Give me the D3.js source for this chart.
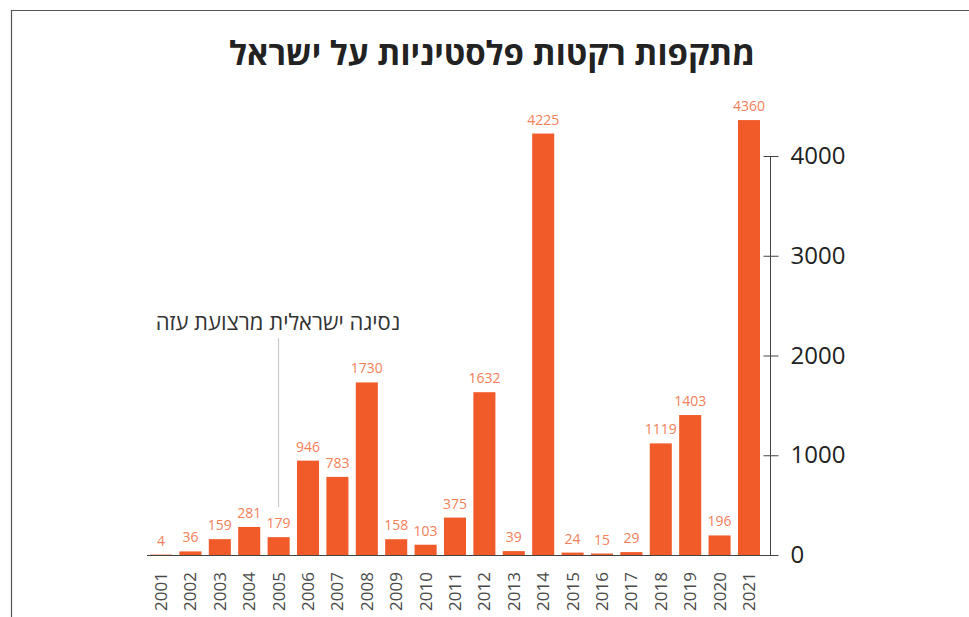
<!DOCTYPE html>
<html>
<head>
<meta charset="utf-8">
<script src="https://cdn.jsdelivr.net/npm/d3@7"></script>
<style>
  body { margin: 0; background: #fff; }
  svg { display: block; font-family: "Open Sans", "DejaVu Sans", sans-serif; }
</style>
</head>
<body>
<script>
var w = 969;
var h = 617;

var years = ['2001','2002','2003','2004','2005','2006','2007','2008','2009','2010','2011',
             '2012','2013','2014','2015','2016','2017','2018','2019','2020','2021'];
var rockets = [4, 36, 159, 281, 179, 946, 783, 1730, 158, 103, 375,
               1632, 39, 4225, 24, 15, 29, 1119, 1403, 196, 4360];
var yTicks = [0, 1000, 2000, 3000, 4000];
var title = 'מתקפות רקטות פלסטיניות על ישראל';
var note = 'נסיגה ישראלית מרצועת עזה';
var noteYear = '2005';

var barColor = '#f15a29';
var labelColor = '#f4805a';

var svg = d3.select('body')
  .append('svg')
  .attr('width', w)
  .attr('height', h);

// frame
svg.append('path')
  .attr('d', 'M11.5,' + h + 'V10.5H' + w)
  .attr('fill', 'none')
  .attr('stroke', '#555')
  .attr('stroke-width', 1.2);

svg.append('text')
  .attr('x', 492)
  .attr('y', 65)
  .attr('text-anchor', 'middle')
  .attr('direction', 'rtl')
  .attr('font-size', 33)
  .attr('font-weight', 'bold')
  .attr('fill', '#222')
  .text(title);

var x = d3.scaleBand()
  .domain(years)
  .range([150, 760])
  .paddingInner(0.25)
  .paddingOuter(0);

var y = d3.scaleLinear()
  .domain([0, 4000])
  .range([555, 156]);

// bars
svg.selectAll('rect.bar')
  .data(rockets)
  .enter()
  .append('rect')
  .attr('class', 'bar')
  .attr('x', function(d, i) { return x(years[i]); })
  .attr('y', function(d) { return y(d); })
  .attr('width', x.bandwidth())
  .attr('height', function(d) { return y(0) - y(d); })
  .attr('fill', barColor);

svg.selectAll('text.val')
  .data(rockets)
  .enter()
  .append('text')
  .attr('class', 'val')
  .attr('x', function(d, i) { return x(years[i]) + x.bandwidth() / 2; })
  .attr('y', function(d) { return y(d) - 9; })
  .attr('text-anchor', 'middle')
  .attr('font-size', 14)
  .attr('fill', labelColor)
  .text(function(d) { return d; });

// baseline
svg.append('line')
  .attr('x1', 147).attr('x2', 778)
  .attr('y1', y(0) + 0.5).attr('y2', y(0) + 0.5)
  .attr('stroke', '#444')
  .attr('stroke-width', 1.2);

// x labels
svg.selectAll('text.year')
  .data(years)
  .enter()
  .append('text')
  .attr('class', 'year')
  .attr('transform', function(d) {
    return 'translate(' + (x(d) + x.bandwidth() / 2 + 6) + ',572) rotate(-90)';
  })
  .attr('text-anchor', 'end')
  .attr('font-size', 17)
  .attr('fill', '#4a4a4a')
  .text(function(d) { return d; });

// y axis on the right
var yAxis = svg.append('g')
  .attr('transform', 'translate(770.5,0)')
  .call(d3.axisRight(y).tickValues(yTicks).tickSize(8).tickPadding(12).tickFormat(d3.format('d')));
yAxis.select('.domain').attr('stroke', '#444').attr('d', 'M0,' + y(0) + 'V' + y(4000));
yAxis.selectAll('.tick line').attr('x1', -7).attr('x2', 8).attr('stroke', '#444');
yAxis.selectAll('.tick text')
  .attr('font-size', 24)
  .attr('font-family', '"Open Sans", sans-serif')
  .attr('fill', '#222');

// annotation
var noteX = x(noteYear) + x.bandwidth() / 2;
svg.append('line')
  .attr('x1', noteX).attr('x2', noteX)
  .attr('y1', 338).attr('y2', 507)
  .attr('stroke', '#c4c4c4')
  .attr('stroke-width', 1);

svg.append('text')
  .attr('x', 278)
  .attr('y', 330)
  .attr('text-anchor', 'middle')
  .attr('direction', 'rtl')
  .attr('font-size', 22)
  .attr('fill', '#333')
  .text(note);
</script>
</body>
</html>
